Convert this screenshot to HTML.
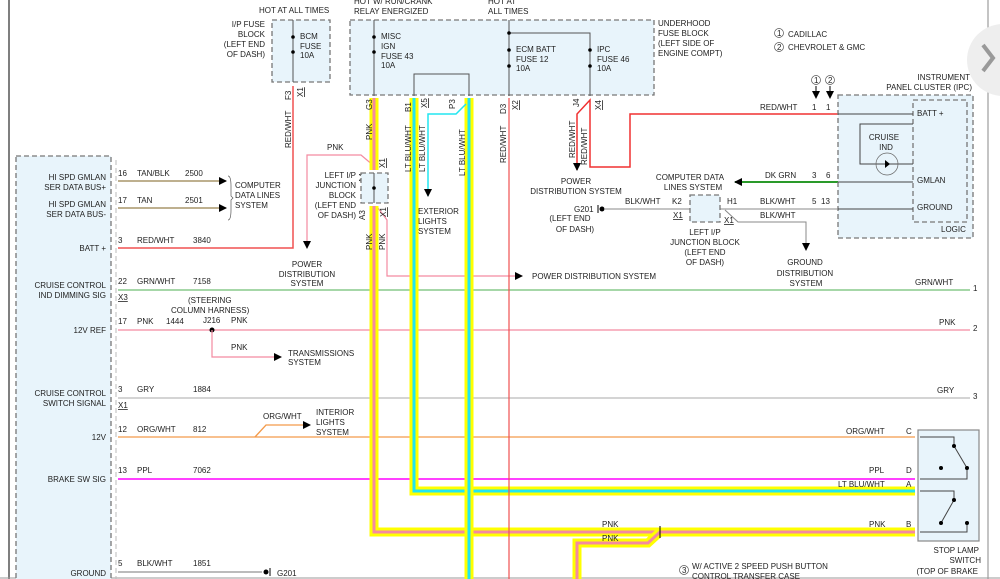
<!DOCTYPE html>
<html><head><meta charset="utf-8"><style>
html,body{margin:0;padding:0;background:#fff;width:1000px;height:579px;overflow:hidden}
svg{display:block}
text{font-family:"Liberation Sans",sans-serif;font-size:8px;fill:#222}
.r{text-anchor:end}.m{text-anchor:middle}
.box{fill:#e8f4fb;stroke:#777;stroke-width:1.3;stroke-dasharray:5,3}
</style></head><body>
<svg width="1000" height="579" viewBox="0 0 1000 579" xmlns="http://www.w3.org/2000/svg">
<defs><marker id="a" markerWidth="8" markerHeight="8" refX="7" refY="4" orient="auto" markerUnits="userSpaceOnUse"><path d="M0,0L8,4L0,8z" fill="#000"/></marker></defs>
<rect x="0" y="0" width="1000" height="579" fill="#fff"/>
<line x1="9" y1="0" x2="9" y2="579" stroke="#555" stroke-width="1.5"/>
<line x1="988" y1="0" x2="988" y2="579" stroke="#888" stroke-width="1"/>
<circle cx="1003" cy="60" r="36" fill="#eee"/>
<path d="M983,45l10,13l-10,13" stroke="#999" stroke-width="4" fill="none"/>
<line x1="0" y1="578" x2="1000" y2="578" stroke="#999"/>

<!-- left module -->
<rect class="box" x="16" y="156" width="95" height="440"/>
<line x1="116" y1="160" x2="116" y2="579" stroke="#bbb" stroke-dasharray="5,3"/>
<g class="r">
<text x="106" y="180">HI SPD GMLAN</text><text x="106" y="190">SER DATA BUS+</text>
<text x="106" y="207">HI SPD GMLAN</text><text x="106" y="217">SER DATA BUS-</text>
<text x="106" y="251">BATT +</text>
<text x="106" y="288">CRUISE CONTROL</text><text x="106" y="298">IND DIMMING SIG</text>
<text x="106" y="333">12V REF</text>
<text x="106" y="396">CRUISE CONTROL</text><text x="106" y="406">SWITCH SIGNAL</text>
<text x="106" y="440">12V</text>
<text x="106" y="482">BRAKE SW SIG</text>
<text x="106" y="576">GROUND</text>
</g>

<!-- fuse boxes -->
<rect class="box" x="272" y="20" width="58" height="62"/>
<line x1="293" y1="20" x2="293" y2="82" stroke="#555"/>
<circle cx="293" cy="37" r="1.8"/><circle cx="293" cy="52" r="1.8"/>
<text x="259" y="13">HOT AT ALL TIMES</text>
<g class="r"><text x="265" y="27">I/P FUSE</text><text x="265" y="37">BLOCK</text><text x="265" y="47">(LEFT END</text><text x="265" y="57">OF DASH)</text></g>
<text x="300" y="39">BCM</text><text x="300" y="49">FUSE</text><text x="300" y="58">10A</text>

<rect class="box" x="350" y="20" width="304" height="75"/>
<text x="354" y="4">HOT W/ RUN/CRANK</text><text x="354" y="14">RELAY ENERGIZED</text>
<text x="488" y="4">HOT AT</text><text x="488" y="14">ALL TIMES</text>
<line x1="374" y1="20" x2="374" y2="96" stroke="#555"/>
<circle cx="374" cy="37" r="1.8"/><circle cx="374" cy="52" r="1.8"/>
<text x="381" y="39">MISC</text><text x="381" y="49">IGN</text><text x="381" y="59">FUSE 43</text><text x="381" y="68">10A</text>
<path d="M414,96V74H469V96" fill="none" stroke="#555"/>
<line x1="509" y1="20" x2="509" y2="96" stroke="#555"/>
<path d="M509,33H590V96" fill="none" stroke="#555"/>
<circle cx="509" cy="33" r="1.8"/><circle cx="509" cy="50" r="1.8"/><circle cx="509" cy="66" r="1.8"/>
<circle cx="590" cy="50" r="1.8"/><circle cx="590" cy="66" r="1.8"/>
<text x="516" y="52">ECM BATT</text><text x="516" y="62">FUSE 12</text><text x="516" y="71">10A</text>
<text x="597" y="52">IPC</text><text x="597" y="62">FUSE 46</text><text x="597" y="71">10A</text>
<text x="658" y="26">UNDERHOOD</text><text x="658" y="36">FUSE BLOCK</text><text x="658" y="46">(LEFT SIDE OF</text><text x="658" y="56">ENGINE COMPT)</text>

<!-- legend -->
<circle cx="779" cy="33" r="4.5" fill="none" stroke="#555" stroke-width=".7"/><text x="777" y="36" font-size="6">1</text>
<text x="788" y="37">CADILLAC</text>
<circle cx="779" cy="47" r="4.5" fill="none" stroke="#555" stroke-width=".7"/><text x="777" y="50" font-size="6">2</text>
<text x="788" y="50">CHEVROLET &amp; GMC</text>

<!-- thin wires left -->
<line x1="118" y1="181" x2="226" y2="181" stroke="#a8956a" stroke-width="1.5" marker-end="url(#a)"/>
<line x1="118" y1="208" x2="226" y2="208" stroke="#a8956a" stroke-width="1.5" marker-end="url(#a)"/>
<path d="M228,176q3,0 3,10v10l2,2l-2,2v10q0,10-3,10" fill="none" stroke="#555" stroke-width=".7"/>
<text x="235" y="188">COMPUTER</text><text x="235" y="198">DATA LINES</text><text x="235" y="208">SYSTEM</text>
<text x="118" y="176">16</text><text x="137" y="176">TAN/BLK</text><text x="185" y="176">2500</text>
<text x="118" y="203">17</text><text x="137" y="203">TAN</text><text x="185" y="203">2501</text>
<path d="M118,248H293V86" fill="none" stroke="#f05050" stroke-width="1.5"/>
<text x="118" y="243">3</text><text x="137" y="243">RED/WHT</text><text x="193" y="243">3840</text>
<text transform="translate(291,100) rotate(-90)">F3</text>
<text transform="translate(303,97) rotate(-90)" text-decoration="underline">X1</text>
<text transform="translate(291,148) rotate(-90)">RED/WHT</text>

<line x1="118" y1="290" x2="970" y2="290" stroke="#4caf50" stroke-width="1"/>
<text x="118" y="284">22</text><text x="137" y="284">GRN/WHT</text><text x="193" y="284">7158</text>
<text x="118" y="300" text-decoration="underline">X3</text>
<text x="915" y="285">GRN/WHT</text><text x="973" y="291">1</text>

<line x1="118" y1="330" x2="970" y2="330" stroke="#f48aa0" stroke-width="1.2"/>
<text x="118" y="324">17</text><text x="137" y="324">PNK</text><text x="166" y="324">1444</text>
<text x="188" y="303">(STEERING</text><text x="171" y="313">COLUMN HARNESS)</text>
<text x="203" y="323">J216</text><text x="231" y="323">PNK</text>
<circle cx="212" cy="330" r="2.5" fill="#000"/>
<path d="M212,330V357H281" fill="none" stroke="#f48aa0" stroke-width="1.2" marker-end="url(#a)"/>
<text x="231" y="350">PNK</text><text x="288" y="356">TRANSMISSIONS</text><text x="288" y="365">SYSTEM</text>
<text x="939" y="325">PNK</text><text x="973" y="331">2</text>

<line x1="118" y1="398" x2="970" y2="398" stroke="#aaa" stroke-width="1"/>
<text x="118" y="392">3</text><text x="137" y="392">GRY</text><text x="193" y="392">1884</text>
<text x="118" y="408" text-decoration="underline">X1</text>
<text x="937" y="393">GRY</text><text x="973" y="399">3</text>

<line x1="118" y1="437" x2="915" y2="437" stroke="#f39a4a" stroke-width="1.3"/>
<path d="M255,437L266,425H310" fill="none" stroke="#f39a4a" stroke-width="1.3" marker-end="url(#a)"/>
<text x="118" y="432">12</text><text x="137" y="432">ORG/WHT</text><text x="193" y="432">812</text>
<text x="263" y="419">ORG/WHT</text><text x="316" y="415">INTERIOR</text><text x="316" y="425">LIGHTS</text><text x="316" y="435">SYSTEM</text>
<text x="846" y="434">ORG/WHT</text><text x="906" y="434">C</text>

<line x1="118" y1="479" x2="915" y2="479" stroke="#f0f" stroke-width="1.5"/>
<text x="118" y="473">13</text><text x="137" y="473">PPL</text><text x="193" y="473">7062</text>
<text x="869" y="473">PPL</text><text x="906" y="473">D</text>

<line x1="118" y1="572" x2="262" y2="572" stroke="#777"/>
<circle cx="266" cy="572" r="2.5" fill="#000"/><line x1="270" y1="568" x2="270" y2="576" stroke="#000"/>
<text x="118" y="566">5</text><text x="137" y="566">BLK/WHT</text><text x="193" y="566">1851</text><text x="277" y="576">G201</text>

<!-- thin pink branches -->
<path d="M374,166L361,155H307V248" fill="none" stroke="#f48aa0" stroke-width="1.2" marker-end="url(#a)"/>
<text x="327" y="150">PNK</text>
<text class="m" x="307" y="267">POWER</text><text class="m" x="307" y="277">DISTRIBUTION</text><text class="m" x="307" y="286">SYSTEM</text>
<path d="M378,208L387,220V276H522" fill="none" stroke="#f48aa0" stroke-width="1.2" marker-end="url(#a)"/>
<text x="532" y="279">POWER DISTRIBUTION SYSTEM</text>

<!-- thick wires -->
<path d="M374,98V170M374,206V532H915" fill="none" stroke="#ffff00" stroke-width="9"/>
<path d="M374,98V170M374,206V532H915" fill="none" stroke="#f48aa0" stroke-width="3"/>
<path d="M660,532L648,543H577V579" fill="none" stroke="#ffff00" stroke-width="9"/>
<path d="M660,532L648,543H577V579" fill="none" stroke="#f48aa0" stroke-width="3"/>
<path d="M414,98V491H915" fill="none" stroke="#ffff00" stroke-width="9"/>
<path d="M414,98V491H915" fill="none" stroke="#22e5f0" stroke-width="3"/>
<path d="M469,98V579" fill="none" stroke="#ffff00" stroke-width="9"/>
<path d="M469,98V579" fill="none" stroke="#22e5f0" stroke-width="3"/>
<path d="M466,104L456,114H428V196" fill="none" stroke="#22e5f0" stroke-width="1.5" marker-end="url(#a)"/>
<text x="418" y="214">EXTERIOR</text><text x="418" y="224">LIGHTS</text><text x="418" y="234">SYSTEM</text>
<line x1="509" y1="98" x2="509" y2="579" stroke="#f05050" stroke-width="1.2"/>

<g>
<text transform="translate(372,110) rotate(-90)">G3</text>
<text transform="translate(372,140) rotate(-90)">PNK</text>
<text transform="translate(385,168) rotate(-90)" text-decoration="underline">X1</text>
<text transform="translate(365,183) rotate(-90)">A4</text>
<text transform="translate(365,220) rotate(-90)">A3</text>
<text transform="translate(386,217) rotate(-90)" text-decoration="underline">X1</text>
<text transform="translate(372,250) rotate(-90)">PNK</text>
<text transform="translate(385,250) rotate(-90)">PNK</text>
<text transform="translate(411,112) rotate(-90)">B1</text>
<text transform="translate(427,108) rotate(-90)" text-decoration="underline">X5</text>
<text transform="translate(411,172) rotate(-90)">LT BLU/WHT</text>
<text transform="translate(425,172) rotate(-90)">LT BLU/WHT</text>
<text transform="translate(455,109) rotate(-90)">P3</text>
<text transform="translate(465,176) rotate(-90)">LT BLU/WHT</text>
<text transform="translate(506,114) rotate(-90)">D3</text>
<text transform="translate(518,110) rotate(-90)" text-decoration="underline">X2</text>
<text transform="translate(506,163) rotate(-90)">RED/WHT</text>
<text transform="translate(579,107) rotate(-90)">J4</text>
<text transform="translate(601,110) rotate(-90)" text-decoration="underline">X4</text>
<text transform="translate(575,158) rotate(-90)">RED/WHT</text>
<text transform="translate(587,165) rotate(-90)">RED/WHT</text>
</g>

<!-- left I/P junction block -->
<rect class="box" x="361" y="173" width="27" height="30"/>
<line x1="374" y1="173" x2="374" y2="203" stroke="#555"/><circle cx="374" cy="188" r="1.8"/>
<g class="r"><text x="356" y="178">LEFT I/P</text><text x="356" y="188">JUNCTION</text><text x="356" y="198">BLOCK</text><text x="356" y="208">(LEFT END</text><text x="356" y="218">OF DASH)</text></g>

<!-- IPC RED/WHT -->
<path d="M838,114H630V167H590V100L577,114V170" fill="none" stroke="#f03030" stroke-width="1.5" marker-end="url(#a)"/>
<text class="m" x="576" y="184">POWER</text><text class="m" x="576" y="194">DISTRIBUTION SYSTEM</text>
<text x="760" y="110">RED/WHT</text><text x="812" y="110">1</text><text x="826" y="110">1</text>
<circle cx="816" cy="80" r="4.5" fill="none" stroke="#555" stroke-width=".7"/><text x="814" y="83" font-size="6">1</text>
<circle cx="830" cy="80" r="4.5" fill="none" stroke="#555" stroke-width=".7"/><text x="828" y="83" font-size="6">2</text>
<line x1="816" y1="86" x2="816" y2="98" stroke="#000" marker-end="url(#a)"/>
<line x1="830" y1="86" x2="830" y2="98" stroke="#000" marker-end="url(#a)"/>

<line x1="838" y1="182" x2="735" y2="182" stroke="#2a9a2a" stroke-width="2" marker-end="url(#a)"/>
<text x="765" y="178">DK GRN</text><text x="812" y="178">3</text><text x="826" y="178">6</text>
<text class="m" x="690" y="180">COMPUTER DATA</text><text class="m" x="693" y="190">LINES SYSTEM</text>

<line x1="838" y1="209" x2="605" y2="209" stroke="#888"/>
<path d="M725,210L738,222H806V250" fill="none" stroke="#888" marker-end="url(#a)"/>
<rect class="box" x="690" y="195" width="30" height="27"/>
<circle cx="602" cy="209" r="2.5" fill="#000"/><line x1="598" y1="205" x2="598" y2="213" stroke="#000"/>
<text x="574" y="212">G201</text>
<text class="m" x="570" y="221">(LEFT END</text><text class="m" x="575" y="232">OF DASH)</text>
<text x="625" y="204">BLK/WHT</text><text x="672" y="204">K2</text><text x="673" y="218" text-decoration="underline">X1</text>
<text x="727" y="204">H1</text><text x="724" y="223" text-decoration="underline">X1</text>
<text x="760" y="204">BLK/WHT</text><text x="812" y="204">5</text><text x="821" y="204">13</text>
<text x="760" y="218">BLK/WHT</text>
<text class="m" x="705" y="235">LEFT I/P</text><text class="m" x="705" y="245">JUNCTION BLOCK</text><text class="m" x="705" y="255">(LEFT END</text><text class="m" x="705" y="265">OF DASH)</text>
<text class="m" x="805" y="265">GROUND</text><text class="m" x="805" y="276">DISTRIBUTION</text><text class="m" x="806" y="286">SYSTEM</text>

<!-- IPC box -->
<rect class="box" x="838" y="95" width="135" height="143"/>
<rect class="box" x="913" y="100" width="54" height="122" fill="none"/>
<line x1="838" y1="114" x2="913" y2="114" stroke="#444"/>
<line x1="838" y1="182" x2="913" y2="182" stroke="#444"/>
<line x1="838" y1="209" x2="913" y2="209" stroke="#444"/>
<path d="M913,164H860V124H913" fill="none" stroke="#444"/>
<circle cx="887" cy="164" r="11" fill="none" stroke="#666" stroke-width=".7"/>
<path d="M885,160v8l5,-4z" fill="#000"/>
<text class="m" x="884" y="140">CRUISE</text><text class="m" x="886" y="150">IND</text>
<text x="917" y="116">BATT +</text><text x="917" y="183">GMLAN</text><text x="917" y="210">GROUND</text><text x="941" y="232">LOGIC</text>
<text class="r" x="970" y="80">INSTRUMENT</text><text class="r" x="972" y="90">PANEL CLUSTER (IPC)</text>

<!-- right labels -->
<text x="838" y="487">LT BLU/WHT</text><text x="906" y="487">A</text>
<text x="602" y="527">PNK</text><text x="602" y="541">PNK</text>
<text x="869" y="527">PNK</text><text x="906" y="527">B</text>
<line x1="660" y1="526" x2="660" y2="538" stroke="#000"/>

<!-- stop lamp switch -->
<rect x="918" y="430" width="61" height="111" fill="#e8f4fb" stroke="#888" stroke-width="1.2"/>
<path d="M920,437H954V446L967,468V479H920M920,491H954V500L941,523M967,523V532H920" fill="none" stroke="#444"/>
<g fill="#000"><circle cx="954" cy="446" r="2"/><circle cx="967" cy="468" r="2"/><circle cx="941" cy="468" r="2"/><circle cx="954" cy="500" r="2"/><circle cx="941" cy="523" r="2"/><circle cx="967" cy="523" r="2"/></g>
<g class="r"><text x="979" y="553">STOP LAMP</text><text x="981" y="563">SWITCH</text><text x="978" y="574">(TOP OF BRAKE</text></g>
<circle cx="684" cy="570" r="4.5" fill="none" stroke="#555" stroke-width=".7"/><text x="682" y="573" font-size="6">3</text>
<text x="692" y="569">W/ ACTIVE 2 SPEED PUSH BUTTON</text><text x="692" y="579">CONTROL TRANSFER CASE</text>
</svg>
</body></html>
